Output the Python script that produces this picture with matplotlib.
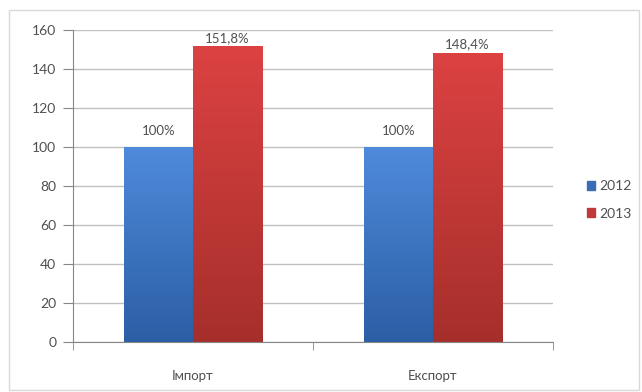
import numpy as np
import matplotlib
matplotlib.use("Agg")
import matplotlib.pyplot as plt
from matplotlib.colors import LinearSegmentedColormap
from matplotlib.patches import Rectangle, Patch

categories = ["Імпорт", "Експорт"]
years = ["2012", "2013"]
values_2012 = [100, 100]
values_2013 = [151.8, 148.4]
labels_2012 = ["100%", "100%"]
labels_2013 = ["151,8%", "148,4%"]

plt.rcParams["font.family"] = ["Lato", "DejaVu Sans"]
txt = "#505050"

fig = plt.figure(figsize=(6.42, 3.92), dpi=100)
ax = fig.add_axes([0.1137, 0.1276, 0.7477, 0.796])

# outer chart-area frame
fig.patches.append(Rectangle((9 / 642, 2 / 392), 630 / 642, 380 / 392,
                             transform=fig.transFigure, fill=False,
                             edgecolor="#d9d9d9", lw=1.0))

x = np.arange(len(categories))
w = 0.2875
# (values, labels, top colour, bottom colour, label pad in points)
series = [(values_2012, labels_2012, "#4f8bdb", "#2b5ea5", 7),
          (values_2013, labels_2013, "#dc4242", "#a62f2b", 1.5)]

grad = np.linspace(0, 1, 256).reshape(-1, 1)
for i, (vals, labs, top, bot, pad) in enumerate(series):
    offs = x + (i - 0.5) * w
    bars = ax.bar(offs, vals, w, color=bot, edgecolor="none", zorder=2)
    cmap = LinearSegmentedColormap.from_list("g%d" % i, [bot, top])
    for b in bars:
        x0, y0 = b.get_x(), b.get_y()
        im = ax.imshow(grad, cmap=cmap, origin="lower", aspect="auto",
                       extent=[x0, x0 + b.get_width(), y0, y0 + b.get_height()],
                       zorder=2.1)
        im.set_clip_path(b)
    ax.bar_label(bars, labels=labs, padding=pad, fontsize=9.5, color=txt,
                 zorder=3)

ax.set_xlim(-0.5, 1.5)
ax.set_ylim(0, 160)
ax.set_yticks(range(0, 161, 20))
ax.set_xticks(x)
ax.set_xticklabels(categories)
ax.set_xticks([-0.5, 0.5, 1.5], minor=True)
ax.tick_params(axis="x", which="major", length=0, pad=20, labelsize=9.5,
               labelcolor=txt)
ax.tick_params(axis="x", which="minor", length=6, color="#868686",
               direction="out")
ax.tick_params(axis="y", length=7, color="#868686", labelsize=10,
               labelcolor=txt, pad=5)
ax.grid(True, axis="y", color="#c0c0c0", lw=1.0, zorder=0)
ax.set_axisbelow(True)
for s in ["top", "right"]:
    ax.spines[s].set_visible(False)
for s in ["left", "bottom"]:
    ax.spines[s].set_color("#868686")

handles = [Patch(color="#3a6db5"), Patch(color="#c0393b")]
leg = fig.legend(handles, years, loc="center left",
                 bbox_to_anchor=(0.895, 0.49), frameon=False, fontsize=10,
                 handlelength=0.6, handleheight=0.6, handletextpad=0.3,
                 labelspacing=1.1)
for t in leg.get_texts():
    t.set_color(txt)

fig.savefig("out.png", dpi=100)
